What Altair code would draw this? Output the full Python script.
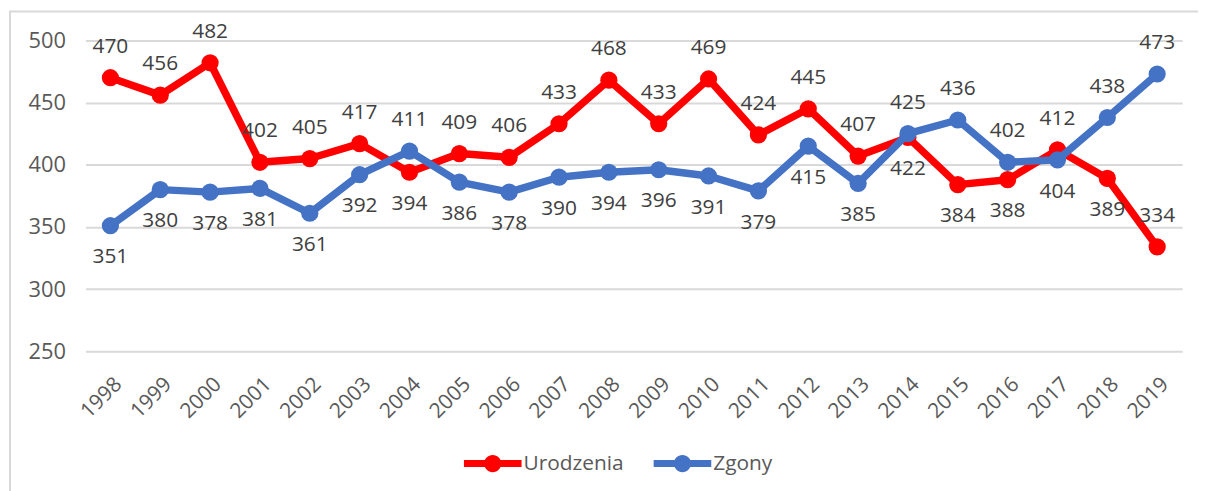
import altair as alt
import pandas as pd

years = [str(y) for y in range(1998, 2020)]
urodzenia = [470, 456, 482, 402, 405, 417, 394, 409, 406, 433, 468, 433, 469, 424, 445, 407, 422, 384, 388, 412, 389, 334]
zgony = [351, 380, 378, 381, 361, 392, 411, 386, 378, 390, 394, 396, 391, 379, 415, 385, 425, 436, 402, 404, 438, 473]
uro_label_side = ["above", "above", "above", "above", "above", "above", "below", "above", "above", "above", "above",
                  "above", "above", "above", "above", "above", "below", "below", "below", "above", "below", "above"]
zgo_label_side = ["below", "below", "below", "below", "below", "below", "above", "below", "below", "below", "below",
                  "below", "below", "below", "below", "below", "above", "above", "above", "below", "above", "above"]
series_names = ["Urodzenia", "Zgony"]
series_colors = ["#FF0000", "#4472C4"]
y_ticks = [250, 300, 350, 400, 450, 500]

rows = []
for name, vals, sides in ((series_names[0], urodzenia, uro_label_side), (series_names[1], zgony, zgo_label_side)):
    for yr, v, s in zip(years, vals, sides):
        rows.append({"rok": yr, "seria": name, "wartosc": v, "strona": s})
df = pd.DataFrame(rows)

FONT = "Open Sans"
W, H = 1104, 313

color_scale = alt.Scale(domain=series_names, range=series_colors)
legend_path = ("M-1,-0.12L1,-0.12L1,0.12L-1,0.12Z "
               "M-0.3,0A0.3,0.3 0 1,1 0.3,0A0.3,0.3 0 1,1 -0.3,0Z")
legend = alt.Legend(title=None, orient="none", legendX=381, legendY=397, direction="horizontal",
                    symbolType=legend_path, symbolSize=3364, symbolStrokeWidth=0, symbolOpacity=1,
                    labelFont=FONT, labelFontSize=21, labelColor="#595959", labelOffset=2,
                    columnPadding=30, padding=0)

x_enc = alt.X("rok:O", sort=years, scale=alt.Scale(padding=0.5),
              axis=alt.Axis(title=None, labelAngle=-45, labelFont=FONT, labelFontSize=21,
                            labelColor="#595959", domain=False, ticks=False, grid=False,
                            labelPadding=22, labelOffset=0))
y_enc = alt.Y("wartosc:Q", scale=alt.Scale(domain=[250, 500], nice=False, zero=False),
              axis=alt.Axis(title=None, values=y_ticks, grid=True, gridColor="#D9D9D9", gridWidth=2,
                            domain=False, ticks=False, labelFont=FONT, labelFontSize=22,
                            labelColor="#595959", labelPadding=20))

base = alt.Chart(df)

frame = alt.Chart(pd.DataFrame({"a": [0]})).mark_rect(
    fill="white", fillOpacity=0, stroke="#D9D9D9", strokeWidth=2
).encode(x=alt.value(-76), x2=alt.value(1200), y=alt.value(-29), y2=alt.value(600))

color_enc = alt.Color("seria:N", scale=color_scale, legend=legend)

layers = [frame]
for name in series_names:
    sub = base.transform_filter(alt.datum.seria == name)
    layers.append(sub.mark_line(strokeWidth=7.5, strokeCap="round", strokeJoin="round").encode(
        x=x_enc, y=y_enc, color=color_enc))
    layers.append(sub.mark_circle(size=300, opacity=1).encode(
        x=x_enc, y=y_enc, color=color_enc))

text_above = base.transform_filter(alt.datum.strona == "above").mark_text(
    font=FONT, fontSize=21, color="#404040", dy=-31, baseline="middle"
).encode(x=x_enc, y=y_enc, text="wartosc:Q")
text_below = base.transform_filter(alt.datum.strona == "below").mark_text(
    font=FONT, fontSize=21, color="#404040", dy=32, baseline="middle"
).encode(x=x_enc, y=y_enc, text="wartosc:Q")
layers += [text_above, text_below]

chart = alt.layer(*layers).properties(
    width=W, height=H,
    autosize=alt.AutoSizeParams(type="none"),
    padding={"left": 78, "top": 31, "right": 16, "bottom": 139},
).configure_view(strokeWidth=0)

chart.save("out.html", embed_options={"renderer": "svg", "actions": False})
